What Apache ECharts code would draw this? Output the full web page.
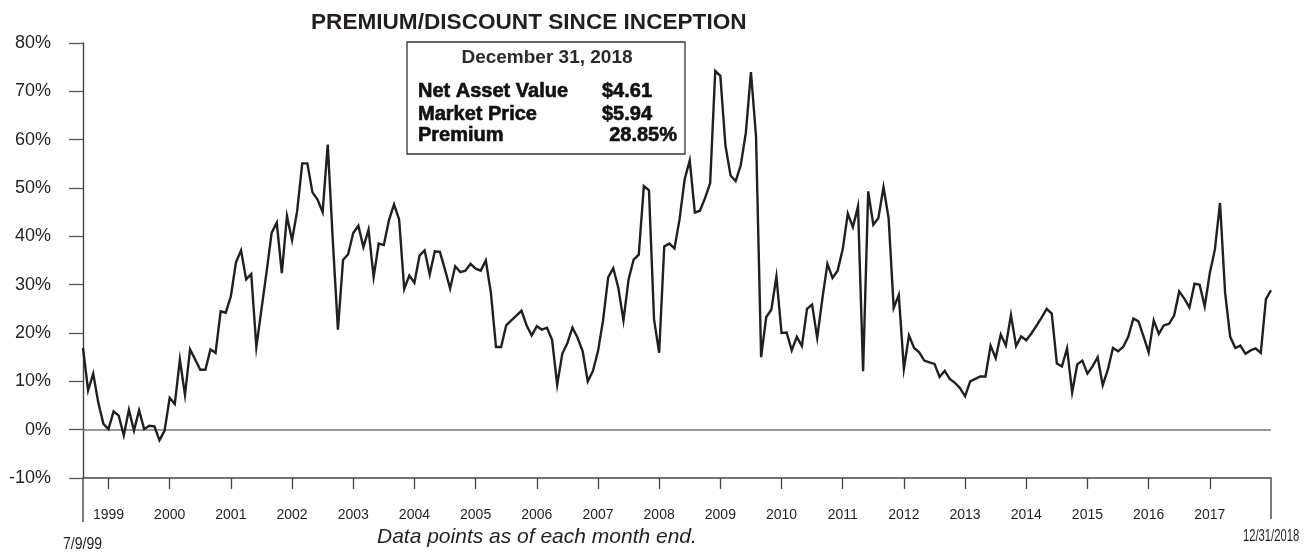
<!DOCTYPE html>
<html>
<head>
<meta charset="utf-8">
<script src="https://cdn.jsdelivr.net/npm/echarts@6/dist/echarts.min.js"></script>
<style>
  html, body { margin: 0; padding: 0; background: #fff; }
  #chart { width: 1313px; height: 553px; }
</style>
</head>
<body>
<div id="chart"></div>
<script>
// ---- Data (premium/discount, % ; month-end values, first point = inception 7/9/99) ----
const v1999 = [16.9, 8.1, 11.6, 5.6, 1.2, 0.1];
const v2000 = [3.8, 2.9, -1.2, 4.1, -0.2, 4.0, 0.1, 0.8, 0.7, -2.2, -0.2, 6.6];
const v2001 = [5.3, 14.5, 7.2, 16.6, 14.5, 12.4, 12.4, 16.6, 15.9, 24.5, 24.2, 27.6];
const v2002 = [34.6, 37.1, 31.1, 32.2, 17.1, 24.9, 32.6, 40.7, 42.8, 32.4, 44.2, 39.2];
const v2003 = [45.2, 55.1, 55.1, 49.1, 47.6, 45.0, 59.0, 39.0, 20.7, 35.1, 36.3, 40.7];
const v2004 = [42.2, 37.8, 41.4, 31.6, 38.5, 38.2, 43.3, 46.6, 43.5, 29.1, 31.9, 30.4];
const v2005 = [36.0, 37.1, 32.1, 36.9, 36.8, 33.1, 29.2, 33.8, 32.6, 32.9, 34.3, 33.3];
const v2006 = [32.9, 35.0, 28.3, 17.1, 17.1, 21.6, 22.6, 23.6, 24.6, 21.6, 19.5, 21.4];
const v2007 = [20.7, 21.1, 18.6, 9.3, 15.7, 17.9, 21.1, 19.0, 16.2, 10.0, 12.1, 16.2];
const v2008 = [22.6, 31.5, 33.4, 29.3, 22.6, 31.1, 35.2, 36.2, 50.4, 49.5, 22.8, 15.9];
const v2009 = [37.9, 38.5, 37.5, 43.5, 51.8, 55.7, 44.9, 45.3, 47.9, 51.0, 74.2, 73.2];
const v2010 = [58.8, 52.6, 51.4, 54.7, 61.4, 74.0, 60.7, 15.0, 23.3, 24.8, 31.7, 20.0];
const v2011 = [20.1, 16.4, 19.2, 17.3, 25.0, 25.9, 19.0, 27.0, 34.3, 31.4, 32.9, 37.3];
const v2012 = [44.7, 41.9, 46.2, 12.1, 49.3, 42.4, 43.8, 50.2, 43.8, 25.2, 27.9, 12.6];
const v2013 = [19.5, 16.9, 16.0, 14.3, 13.9, 13.6, 10.9, 12.2, 10.5, 9.7, 8.6, 6.9];
const v2014 = [10.0, 10.5, 11.0, 11.0, 17.4, 14.8, 19.7, 17.4, 23.7, 17.3, 19.3, 18.5];
const v2015 = [19.9, 21.5, 23.2, 25.0, 24.0, 13.7, 13.1, 16.8, 7.7, 13.5, 14.3, 11.6];
const v2016 = [13.1, 15.0, 9.2, 12.4, 16.9, 16.2, 17.1, 19.2, 23.0, 22.4, 19.3, 16.0];
const v2017 = [22.6, 19.8, 21.6, 21.9, 23.6, 28.6, 27.1, 25.3, 30.2, 30.0, 25.5, 32.4];
const v2018 = [37.3, 46.9, 28.3, 19.2, 16.9, 17.4, 15.7, 16.4, 16.8, 15.9, 27.0, 28.85];

const yearlyValues = [v1999, v2000, v2001, v2002, v2003, v2004, v2005, v2006, v2007, v2008,
  v2009, v2010, v2011, v2012, v2013, v2014, v2015, v2016, v2017, v2018];

const yTicks = [-10, 0, 10, 20, 30, 40, 50, 60, 70, 80];

const boxTitle = 'December 31, 2018';
const boxRows = [
  ['Net Asset Value', '$4.61'],
  ['Market Price', '$5.94'],
  ['Premium', '28.85%']
];

// ---- Categories: inception date, then month ends through 12/31/2018 ----
const dates = ['7/9/1999'];
for (let y = 1999; y <= 2018; y++) {
  for (let m = (y === 1999 ? 8 : 1); m <= 12; m++) {
    const d = new Date(Date.UTC(y, m, 0)).getUTCDate();
    dates.push(m + '/' + d + '/' + y);
  }
}
const values = [].concat(...yearlyValues);
const lastIdx = dates.length - 1;

const INK = '#231f20';
const SANS = "'Liberation Sans', Arial, Helvetica, sans-serif";

const isYearEnd = (index, value) => value.indexOf('12/31/') === 0 && index !== lastIdx;

const chart = echarts.init(document.getElementById('chart'), null, { renderer: 'canvas' });

const rowFont = 'bold 20px ' + SANS;
const rowStyle = (text, align) => ({ text, fill: '#111', font: rowFont, textAlign: align || 'left', textVerticalAlign: 'middle', stroke: '#111', lineWidth: 0.6 });

const graphics = [
  // axis extensions
  { type: 'line', shape: { x1: 83, y1: 478, x2: 83, y2: 522 }, style: { stroke: '#444', lineWidth: 1.4 }, silent: true },
  { type: 'line', shape: { x1: 1271, y1: 478, x2: 1271, y2: 519 }, style: { stroke: '#444', lineWidth: 1.4 }, silent: true },
  // info box
  { type: 'rect', shape: { x: 407, y: 42, width: 278, height: 112 }, style: { fill: '#fff', stroke: '#333', lineWidth: 1.3 }, z: 10 },
  { type: 'text', x: 547, y: 58, z: 11, style: { text: boxTitle, fill: '#2a2a2a', font: 'bold 19px ' + SANS, textAlign: 'center', textVerticalAlign: 'middle' } },
  { type: 'text', x: 418, y: 91, z: 11, style: rowStyle(boxRows[0][0]) },
  { type: 'text', x: 602, y: 91, z: 11, style: rowStyle(boxRows[0][1]) },
  { type: 'text', x: 418, y: 114, z: 11, style: rowStyle(boxRows[1][0]) },
  { type: 'text', x: 602, y: 114, z: 11, style: rowStyle(boxRows[1][1]) },
  { type: 'text', x: 418, y: 135, z: 11, style: rowStyle(boxRows[2][0]) },
  { type: 'text', x: 677, y: 135, z: 11, style: rowStyle(boxRows[2][1], 'right') },
  // footer texts
  { type: 'text', x: 63, y: 545, scaleX: 0.88, originX: 0, originY: 0, style: { text: '7/9/99', fill: INK, font: '16px ' + SANS, textVerticalAlign: 'middle' } },
  { type: 'text', x: 1243, y: 536, scaleX: 0.66, originX: 0, originY: 0, style: { text: '12/31/2018', fill: INK, font: '17px ' + SANS, textVerticalAlign: 'middle' } },
  { type: 'text', x: 377, y: 537, style: { text: 'Data points as of each month end.', fill: INK, font: 'italic 21px ' + SANS, textVerticalAlign: 'middle' } }
];

chart.setOption({
  animation: false,
  backgroundColor: '#fff',
  title: {
    text: 'PREMIUM/DISCOUNT SINCE INCEPTION',
    left: 311, top: 11, padding: 0,
    textStyle: { fontFamily: SANS, fontWeight: 'bold', fontSize: 22.6, color: INK }
  },
  grid: { left: 83, right: 42, top: 43, bottom: 75, containLabel: false },
  xAxis: {
    type: 'category',
    data: dates,
    boundaryGap: false,
    axisLine: { show: true, onZero: false, lineStyle: { color: '#444', width: 1.5 } },
    axisTick: { show: true, length: 11, interval: isYearEnd, lineStyle: { color: '#444', width: 1.3 } },
    axisLabel: {
      interval: isYearEnd,
      formatter: v => v.slice(-4),
      margin: 30,
      fontFamily: SANS,
      fontSize: 14,
      color: INK
    },
    splitLine: { show: false }
  },
  yAxis: {
    type: 'value',
    min: yTicks[0],
    max: yTicks[yTicks.length - 1],
    interval: 10,
    axisLine: { show: true, lineStyle: { color: '#444', width: 1.4 } },
    axisTick: { show: true, length: 14, lineStyle: { color: '#555', width: 1.3 } },
    axisLabel: { formatter: '{value}%', margin: 32, fontFamily: SANS, fontSize: 18, color: INK },
    splitLine: { show: false }
  },
  series: [{
    type: 'line',
    data: values,
    symbol: 'none',
    smooth: false,
    lineStyle: { color: INK, width: 2.4, join: 'miter' },
    z: 3,
    markLine: {
      silent: true,
      symbol: ['none', 'none'],
      label: { show: false },
      lineStyle: { color: '#777', width: 1.6, type: 'solid' },
      data: [{ yAxis: 0 }],
      z: 1
    }
  }],
  graphic: graphics
});
</script>
</body>
</html>
